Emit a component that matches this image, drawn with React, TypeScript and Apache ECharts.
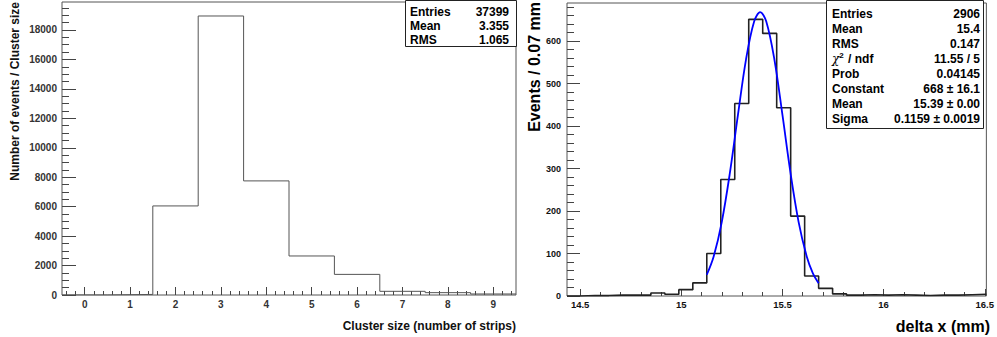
import React, { useEffect, useRef } from "react";
import * as echarts from "echarts";

const FONT = "'Liberation Sans', Arial, Helvetica, sans-serif";

// ---- Left: cluster size histogram ----
const clusterSizeBins = [0, 1, 2, 3, 4, 5, 6, 7, 8, 9];
const clusterCounts = [0, 40, 6050, 18950, 7750, 2650, 1400, 250, 160, 70];
const leftXTickLabels = [0, 1, 2, 3, 4, 5, 6, 7, 8, 9];
const leftYTickLabels = [0, 2000, 4000, 6000, 8000, 10000, 12000, 14000, 16000, 18000];
const leftStatsLabels = ["Entries", "Mean", "RMS"];
const leftStatsValues = ["37399", "3.355", "1.065"];

// ---- Right: delta x histogram with gaussian fit ----
const deltaXLow = 14.435;
const deltaXBinWidth = 0.0691;
const deltaXCounts = [
  0, 1, 1, 2, 2, 2, 7, 4, 15, 31,
  100, 274, 453, 651, 618, 443, 188, 47, 18, 5,
  2, 3, 2, 3, 2, 1, 2, 2, 3, 4,
];
const fitX = [15.126, 15.16, 15.2, 15.24, 15.28, 15.32, 15.36, 15.39, 15.42, 15.46, 15.5, 15.54, 15.58, 15.62, 15.65, 15.679];
const fitY = [50, 93, 174, 289, 426, 557, 646, 668, 646, 557, 426, 289, 174, 93, 54, 30];
const rightXTickLabels = [14.5, 15, 15.5, 16, 16.5];
const rightYTickLabels = [0, 100, 200, 300, 400, 500, 600];
const rightStatsLabels = ["Entries", "Mean", "RMS", "{chi|χ}{sup|2}{b| / ndf}", "Prob", "Constant", "Mean", "Sigma"];
const rightStatsValues = ["2906", "15.4", "0.147", "11.55 / 5", "0.04145", "668 ± 16.1", "15.39 ± 0.00", "0.1159 ± 0.0019"];

function minorTicks(from: number, to: number, step: number, skipEvery: number) {
  const out: number[] = [];
  const n = Math.round((to - from) / step);
  for (let i = 0; i <= n; i++) {
    const v = +(from + i * step).toFixed(6);
    const r = v / skipEvery;
    if (Math.abs(r - Math.round(r)) > 1e-6) out.push(v);
  }
  return out;
}

export default function App() {
  const ref = useRef<HTMLDivElement>(null);
  useEffect(() => {
    if (!ref.current) return;
    const chart = echarts.init(ref.current, null, { renderer: "svg" });

    const leftHist: number[][] = [];
    clusterSizeBins.forEach((c, i) => {
      leftHist.push([c - 0.5, clusterCounts[i]]);
      leftHist.push([c + 0.5, clusterCounts[i]]);
    });
    const rightHist: number[][] = [];
    deltaXCounts.forEach((v, i) => {
      rightHist.push([deltaXLow + i * deltaXBinWidth, v]);
      rightHist.push([deltaXLow + (i + 1) * deltaXBinWidth, v]);
    });
    const rightMax = deltaXLow + deltaXCounts.length * deltaXBinWidth;
    const fitData = fitX.map((x, i) => [x, fitY[i]]);

    const lineCol = "#555";
    const tickCol = "#444";
    const lblL = { fontFamily: FONT, fontWeight: "bold" as const, color: "#333", fontSize: 10 };
    const lblR = { fontFamily: FONT, fontWeight: "bold" as const, color: "#111", fontSize: 9.5 };

    const xAx = (grid: number, min: number, max: number, ticks: number[], len: number, label: any, showLabel: boolean) => ({
      type: "value", gridIndex: grid, min, max, position: "bottom",
      axisLine: { show: false, onZero: false },
      splitLine: { show: false },
      axisTick: { show: true, inside: true, length: len, customValues: ticks, lineStyle: { color: tickCol, width: 1 } },
      axisLabel: showLabel ? { ...label, customValues: ticks, formatter: (v: number) => String(v) } : { show: false },
    });
    const yAx = (grid: number, min: number, max: number, ticks: number[], len: number, label: any, showLabel: boolean) => ({
      type: "value", gridIndex: grid, min, max, position: "left",
      axisLine: { show: false, onZero: false },
      splitLine: { show: false },
      axisTick: { show: true, inside: true, length: len, customValues: ticks, lineStyle: { color: tickCol, width: 1 } },
      axisLabel: showLabel ? { ...label, customValues: ticks, formatter: (v: number) => String(v) } : { show: false },
    });

    const statText = (x: number, y: number, text: string, align: string) => ({
      type: "text", x, y, z: 101,
      style: {
        text, x: 0, y: 0, align, verticalAlign: "middle",
        font: `bold 12px ${FONT}`, fill: "#000",
        rich: {
          chi: { fontFamily: "'DejaVu Serif', serif", fontStyle: "italic", fontWeight: "normal", fontSize: 12, fill: "#000" },
          sup: { fontFamily: FONT, fontWeight: "bold", fontSize: 8, padding: [0, 1, 7, 0], fill: "#000" },
          b: { fontFamily: FONT, fontWeight: "bold", fontSize: 12, fill: "#000" },
        },
      },
    });

    const graphics: any[] = [];
    // left stats box
    graphics.push({ type: "rect", z: 100, shape: { x: 405.5, y: 0.5, width: 111, height: 46 }, style: { fill: "#fff", stroke: "#222", lineWidth: 1 } });
    leftStatsLabels.forEach((l, i) => {
      const y = 11.5 + i * 14;
      graphics.push(statText(410, y, l, "left"));
      graphics.push(statText(509, y, leftStatsValues[i], "right"));
    });
    // right stats box
    graphics.push({ type: "rect", z: 100, shape: { x: 826.5, y: 0.5, width: 157, height: 128 }, style: { fill: "#fff", stroke: "#222", lineWidth: 1 } });
    rightStatsLabels.forEach((l, i) => {
      const y = 14 + i * 15;
      graphics.push(statText(832, y, l, "left"));
      graphics.push(statText(980, y, rightStatsValues[i], "right"));
    });
    // axis titles
    graphics.push({ type: "text", x: 516, y: 326, z: 100, style: { text: "Cluster size (number of strips)", align: "right", verticalAlign: "middle", font: `bold 12px ${FONT}`, fill: "#111" } });
    graphics.push({ type: "text", x: 15, y: 2, rotation: Math.PI / 2, z: 100, style: { text: "Number of events / Cluster size", align: "right", verticalAlign: "middle", font: `bold 12px ${FONT}`, fill: "#111" } });
    graphics.push({ type: "text", x: 990, y: 326, z: 100, style: { text: "delta x (mm)", align: "right", verticalAlign: "middle", font: `bold 16px ${FONT}`, fill: "#000" } });
    graphics.push({ type: "text", x: 534, y: 2, rotation: Math.PI / 2, z: 100, style: { text: "Events / 0.07 mm", align: "right", verticalAlign: "middle", font: `bold 16px ${FONT}`, fill: "#000" } });

    const option: any = {
      animation: false,
      backgroundColor: "#fff",
      grid: [
        { left: 62, top: 2, width: 454, height: 293, show: true, borderColor: lineCol, borderWidth: 1, backgroundColor: "transparent" },
        { left: 567, top: 3, width: 423, height: 293, show: true, borderColor: lineCol, borderWidth: 1, backgroundColor: "transparent" },
      ],
      xAxis: [
        xAx(0, -0.5, 9.5, leftXTickLabels, 8, { ...lblL, margin: 4 }, true),
        xAx(0, -0.5, 9.5, minorTicks(-0.4, 9.4, 0.2, 1), 4, null, false),
        xAx(1, deltaXLow, rightMax, rightXTickLabels, 7, { ...lblR, margin: 3 }, true),
        xAx(1, deltaXLow, rightMax, minorTicks(14.5, 16.5, 0.1, 0.5), 4, null, false),
      ],
      yAxis: [
        yAx(0, 0, 19900, leftYTickLabels, 14, { ...lblL, margin: 5 }, true),
        yAx(0, 0, 19900, minorTicks(0, 19500, 500, 2000), 7, null, false),
        yAx(1, 0, 689.5, rightYTickLabels, 13, { ...lblR, fontSize: 9, margin: 6 }, true),
        yAx(1, 0, 689.5, minorTicks(0, 680, 20, 100), 7, null, false),
      ],
      series: [
        {
          type: "line", xAxisIndex: 0, yAxisIndex: 0, data: leftHist, symbol: "none",
          lineStyle: { color: "#555", width: 1 }, z: 5,
        },
        {
          type: "line", xAxisIndex: 2, yAxisIndex: 2, data: rightHist, symbol: "none",
          lineStyle: { color: "#222", width: 1.6 }, z: 5,
        },
        {
          type: "line", xAxisIndex: 2, yAxisIndex: 2, data: fitData, symbol: "none", smooth: 0.35,
          lineStyle: { color: "#0000ff", width: 1.8 }, z: 6,
        },
      ],
      graphic: graphics,
    };
    chart.setOption(option);
    return () => chart.dispose();
  }, []);

  return (
    <div
      ref={ref}
      style={{ position: "absolute", left: 0, top: 0, width: 997, height: 337, background: "#fff" }}
    />
  );
}
